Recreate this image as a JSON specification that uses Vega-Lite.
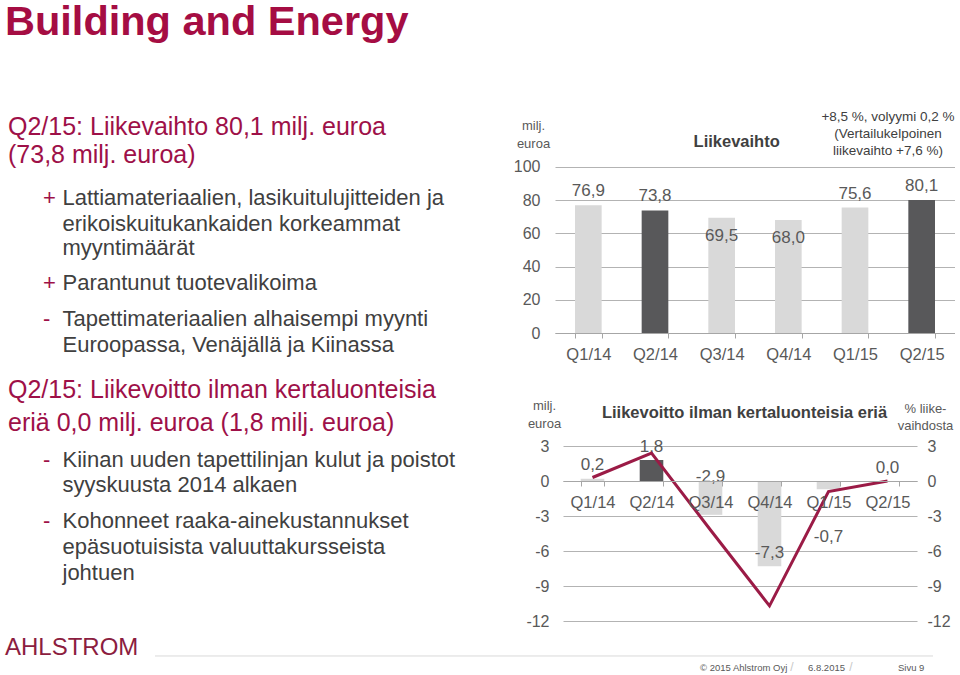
{
  "$schema": "https://vega.github.io/schema/vega-lite/v6.json",
  "background": "white",
  "padding": 0,
  "config": {
    "font": "Liberation Sans",
    "view": {"stroke": null},
    "locale": {"number": {"decimal": ",", "thousands": "\u00a0", "grouping": [3], "currency": ["", "\u00a0€"], "minus": "-"}}
  },
  "bounds": "flush",
  "spacing": 55,
  "hconcat": [
    {
      "width": 500,
      "height": 675,
      "data": {"values": [
        {"line": -4.12, "role": "title", "bullet": "", "text": "Building and Energy"},
        {"line": -0.1, "role": "head", "bullet": "", "text": "Q2/15: Liikevaihto 80,1 milj. euroa"},
        {"line": 0.95, "role": "head", "bullet": "", "text": "(73,8 milj. euroa)"},
        {"line": 2.6, "role": "item", "bullet": "+", "text": "Lattiamateriaalien, lasikuitulujitteiden ja"},
        {"line": 3.6, "role": "item", "bullet": "", "text": "erikoiskuitukankaiden korkeammat"},
        {"line": 4.55, "role": "item", "bullet": "", "text": "myyntimäärät"},
        {"line": 5.9, "role": "item", "bullet": "+", "text": "Parantunut tuotevalikoima"},
        {"line": 7.25, "role": "item", "bullet": "-", "text": "Tapettimateriaalien alhaisempi myynti"},
        {"line": 8.25, "role": "item", "bullet": "", "text": "Euroopassa, Venäjällä ja Kiinassa"},
        {"line": 10, "role": "head", "bullet": "", "text": "Q2/15: Liikevoitto ilman kertaluonteisia"},
        {"line": 11.25, "role": "head", "bullet": "", "text": "eriä 0,0 milj. euroa (1,8 milj. euroa)"},
        {"line": 12.7, "role": "item", "bullet": "-", "text": "Kiinan uuden tapettilinjan kulut ja poistot"},
        {"line": 13.65, "role": "item", "bullet": "", "text": "syyskuusta 2014 alkaen"},
        {"line": 15.05, "role": "item", "bullet": "-", "text": "Kohonneet raaka-ainekustannukset"},
        {"line": 16.05, "role": "item", "bullet": "", "text": "epäsuotuisista valuuttakursseista"},
        {"line": 17.05, "role": "item", "bullet": "", "text": "johtuen"},
        {"line": 19.94, "role": "logo", "bullet": "", "text": "AHLSTROM"},
        {"line": 20.23, "role": "rule", "bullet": "", "text": ""},
        {"line": 20.71, "role": "copyright", "bullet": "", "text": "© 2015 Ahlstrom Oyj"},
        {"line": 20.71, "role": "date", "bullet": "", "text": "6.8.2015"},
        {"line": 20.71, "role": "page", "bullet": "", "text": "Sivu 9"}
      ]},
      "encoding": {
        "y": {"field": "line", "type": "quantitative", "scale": {"domain": [-5, 20.9615], "reverse": true, "nice": false, "zero": false}, "axis": null}
      },
      "layer": [
        {
          "transform": [{"filter": "datum.role === 'title'"}],
          "mark": {"type": "text", "align": "left", "baseline": "middle", "fontSize": 41.5, "fontWeight": "bold", "color": "#A50D43"},
          "encoding": {
            "x": {"datum": 0.5, "type": "quantitative", "scale": {"domain": [0, 50], "nice": false, "zero": false}, "axis": null},
            "text": {"field": "text"}
          }
        },
        {
          "transform": [{"filter": "datum.role === 'head'"}],
          "mark": {"type": "text", "align": "left", "baseline": "middle", "fontSize": 25, "color": "#9E1048"},
          "encoding": {
            "x": {"datum": 0.8, "type": "quantitative"},
            "text": {"field": "text"}
          }
        },
        {
          "transform": [{"filter": "datum.role === 'item'"}],
          "mark": {"type": "text", "align": "left", "baseline": "middle", "fontSize": 22, "color": "#404040"},
          "encoding": {
            "x": {"datum": 6.25, "type": "quantitative"},
            "text": {"field": "text"}
          }
        },
        {
          "transform": [{"filter": "datum.bullet !== ''"}],
          "mark": {"type": "text", "align": "left", "baseline": "middle", "fontSize": 22, "color": "#9E1048"},
          "encoding": {
            "x": {"datum": 4.3, "type": "quantitative"},
            "text": {"field": "bullet"}
          }
        },
        {
          "transform": [{"filter": "datum.role === 'logo'"}],
          "mark": {"type": "text", "align": "left", "baseline": "middle", "fontSize": 24, "color": "#8C1D40"},
          "encoding": {
            "x": {"datum": 0.5, "type": "quantitative"},
            "text": {"field": "text"}
          }
        },
        {
          "transform": [{"filter": "datum.role === 'rule'"}],
          "mark": {"type": "rule", "color": "#D9D9D9", "strokeWidth": 1},
          "encoding": {
            "x": {"datum": 15.5, "type": "quantitative"},
            "x2": {"datum": 93.3}
          }
        },
        {
          "transform": [{"filter": "datum.role === 'copyright'"}],
          "mark": {"type": "text", "align": "left", "baseline": "middle", "fontSize": 9.5, "color": "#595959"},
          "encoding": {
            "x": {"datum": 70, "type": "quantitative"},
            "text": {"field": "text"}
          }
        },
        {
          "transform": [{"filter": "datum.role === 'date'"}],
          "mark": {"type": "text", "align": "left", "baseline": "middle", "fontSize": 9.5, "color": "#595959"},
          "encoding": {
            "x": {"datum": 80.8, "type": "quantitative"},
            "text": {"field": "text"}
          }
        },
        {
          "transform": [{"filter": "datum.role === 'page'"}],
          "mark": {"type": "text", "align": "left", "baseline": "middle", "fontSize": 9.5, "color": "#595959"},
          "encoding": {
            "x": {"datum": 89.8, "type": "quantitative"},
            "text": {"field": "text"}
          }
        },
        {
          "transform": [{"filter": "datum.role === 'date'"}],
          "mark": {"type": "text", "text": "/", "align": "center", "baseline": "middle", "fontSize": 12, "dy": -1, "color": "#C8C8C8"},
          "encoding": {
            "x": {"datum": 79.2, "type": "quantitative"}
          }
        },
        {
          "transform": [{"filter": "datum.role === 'page'"}],
          "mark": {"type": "text", "text": "/", "align": "center", "baseline": "middle", "fontSize": 12, "dy": -1, "color": "#C8C8C8"},
          "encoding": {
            "x": {"datum": 85.1, "type": "quantitative"}
          }
        }
      ]
    },
    {
      "bounds": "flush",
      "spacing": 8,
      "vconcat": [
        {
          "width": 400,
          "height": 333,
          "data": {"values": [
            {"quarter": "Q1/14", "sales": 76.9},
            {"quarter": "Q2/14", "sales": 73.8},
            {"quarter": "Q3/14", "sales": 69.5},
            {"quarter": "Q4/14", "sales": 68.0},
            {"quarter": "Q1/15", "sales": 75.6},
            {"quarter": "Q2/15", "sales": 80.1}
          ]},
          "encoding": {
            "x": {
              "field": "quarter", "type": "nominal", "sort": null,
              "scale": {"paddingInner": 0.6, "paddingOuter": 0.3},
              "axis": {"title": null, "labelAngle": 0, "labelFontSize": 16.5, "labelColor": "#595959", "labelPadding": 8, "ticks": true, "tickSize": 5, "tickBand": "extent", "tickColor": "#A6A6A6", "domainColor": "#A6A6A6", "grid": false}
            }
          },
          "layer": [
            {
              "mark": {"type": "bar"},
              "encoding": {
                "y": {
                  "field": "sales", "type": "quantitative",
                  "scale": {"domain": [0, 200.6], "nice": false},
                  "axis": {"values": [0, 20, 40, 60, 80, 100], "grid": true, "gridColor": "#B3B3B3", "domain": false, "ticks": false, "labelPadding": 15, "labelFontSize": 16, "labelColor": "#595959", "title": ["milj.", "euroa"], "titleAngle": 0, "titleAlign": "center", "titleBaseline": "middle", "titleX": -22, "titleY": 125, "titleFontSize": 13, "titleFontWeight": "normal", "titleColor": "#595959", "titleLineHeight": 18}
                },
                "color": {"condition": {"test": "datum.quarter === 'Q2/14' || datum.quarter === 'Q2/15'", "value": "#58585A"}, "value": "#D9D9D9"}
              }
            },
            {
              "transform": [{"filter": "datum.quarter !== 'Q3/14' && datum.quarter !== 'Q4/14'"}],
              "mark": {"type": "text", "baseline": "middle", "dy": -14, "fontSize": 17, "color": "#595959"},
              "encoding": {
                "y": {"field": "sales", "type": "quantitative"},
                "text": {"field": "sales", "type": "quantitative", "format": ".1f"}
              }
            },
            {
              "transform": [{"filter": "datum.quarter === 'Q3/14' || datum.quarter === 'Q4/14'"}],
              "mark": {"type": "text", "baseline": "middle", "dy": 18, "fontSize": 17, "color": "#595959"},
              "encoding": {
                "y": {"field": "sales", "type": "quantitative"},
                "text": {"field": "sales", "type": "quantitative", "format": ".1f"}
              }
            },
            {
              "data": {"values": [{}]},
              "mark": {"type": "text", "text": "Liikevaihto", "baseline": "middle", "align": "center", "dx": 15, "fontSize": 16.5, "fontWeight": "bold", "color": "#404040"},
              "encoding": {
                "x": {"datum": "Q3/14"},
                "y": {"datum": 115}
              }
            },
            {
              "data": {"values": [{}]},
              "mark": {"type": "text", "text": ["+8,5 %, volyymi 0,2 %", "(Vertailukelpoinen", "liikevaihto +7,6 %)"], "lineHeight": 17, "baseline": "middle", "align": "center", "dx": 33, "fontSize": 13.5, "color": "#404040"},
              "encoding": {
                "x": {"datum": "Q1/15"},
                "y": {"datum": 130}
              }
            }
          ]
        },
        {
          "bounds": "flush",
          "spacing": 0,
          "hconcat": [
            {
              "width": 8,
              "height": 280,
              "data": {"values": [{}]},
              "mark": {"type": "text", "text": ""},
              "encoding": {}
            },
            {
              "width": 354,
              "height": 280,
              "data": {"values": [
                {"quarter": "Q1/14", "ebit": 0.2, "margin": 0.3},
                {"quarter": "Q2/14", "ebit": 1.8, "margin": 2.4},
                {"quarter": "Q3/14", "ebit": -2.9, "margin": -4.2},
                {"quarter": "Q4/14", "ebit": -7.3, "margin": -10.7},
                {"quarter": "Q1/15", "ebit": -0.7, "margin": -0.9},
                {"quarter": "Q2/15", "ebit": 0.0, "margin": 0.0}
              ]},
              "encoding": {
                "x": {
                  "field": "quarter", "type": "nominal", "sort": null,
                  "scale": {"paddingInner": 0.6, "paddingOuter": 0.3},
                  "axis": {"title": null, "offset": -140, "zindex": 1, "labelAngle": 0, "labelFontSize": 16.5, "labelColor": "#595959", "labelPadding": 8, "ticks": true, "tickSize": 5, "tickBand": "extent", "tickColor": "#A6A6A6", "domainColor": "#A6A6A6", "grid": false}
                }
              },
              "layer": [
                {
                  "mark": {"type": "bar"},
                  "encoding": {
                    "y": {
                      "field": "ebit", "type": "quantitative",
                      "scale": {"domain": [-12, 12], "nice": false},
                      "axis": {"values": [-12, -9, -6, -3, 0, 3], "grid": true, "gridColor": "#B3B3B3", "domain": false, "ticks": false, "labelPadding": 14, "labelFontSize": 16, "labelColor": "#595959", "title": ["milj.", "euroa"], "titleAngle": 0, "titleAlign": "center", "titleBaseline": "middle", "titleX": -19, "titleY": 64, "titleFontSize": 13, "titleFontWeight": "normal", "titleColor": "#595959", "titleLineHeight": 18}
                    },
                    "color": {"condition": {"test": "datum.quarter === 'Q2/14' || datum.quarter === 'Q2/15'", "value": "#58585A"}, "value": "#D9D9D9"}
                  }
                },
                {
                  "transform": [{"filter": "datum.quarter !== 'Q3/14' && datum.quarter !== 'Q1/15'"}],
                  "mark": {"type": "text", "baseline": "middle", "dy": -13.5, "fontSize": 17, "color": "#595959"},
                  "encoding": {
                    "y": {"field": "ebit", "type": "quantitative", "axis": null},
                    "text": {"field": "ebit", "type": "quantitative", "format": ".1f"}
                  }
                },
                {
                  "transform": [{"filter": "datum.quarter === 'Q3/14'"}],
                  "mark": {"type": "text", "baseline": "middle", "dy": -38, "fontSize": 17, "color": "#595959"},
                  "encoding": {
                    "y": {"field": "ebit", "type": "quantitative", "axis": null},
                    "text": {"field": "ebit", "type": "quantitative", "format": ".1f"}
                  }
                },
                {
                  "transform": [{"filter": "datum.quarter === 'Q1/15'"}],
                  "mark": {"type": "text", "baseline": "middle", "dy": 48, "fontSize": 17, "color": "#595959"},
                  "encoding": {
                    "y": {"field": "ebit", "type": "quantitative", "axis": null},
                    "text": {"field": "ebit", "type": "quantitative", "format": ".1f"}
                  }
                },
                {
                  "mark": {"type": "line", "color": "#9B1B46", "strokeWidth": 3},
                  "encoding": {
                    "y": {
                      "field": "margin", "type": "quantitative",
                      "axis": {"orient": "right", "values": [-12, -9, -6, -3, 0, 3], "grid": false, "domain": false, "ticks": false, "labelPadding": 10, "labelFontSize": 16, "labelColor": "#595959", "title": ["% liike-", "vaihdosta"], "titleAngle": 0, "titleAlign": "center", "titleBaseline": "middle", "titleX": 8, "titleY": 67, "titleFontSize": 13, "titleFontWeight": "normal", "titleColor": "#595959", "titleLineHeight": 17}
                    }
                  }
                },
                {
                  "data": {"values": [{}]},
                  "mark": {"type": "text", "text": "Liikevoitto ilman kertaluonteisia eriä", "baseline": "middle", "align": "center", "dx": -25, "fontSize": 16.5, "fontWeight": "bold", "color": "#404040"},
                  "encoding": {
                    "x": {"datum": "Q4/14"},
                    "y": {"datum": 5.85, "axis": null}
                  }
                }
              ],
              "resolve": {"axis": {"y": "independent"}}
            }
          ]
        }
      ]
    }
  ]
}
